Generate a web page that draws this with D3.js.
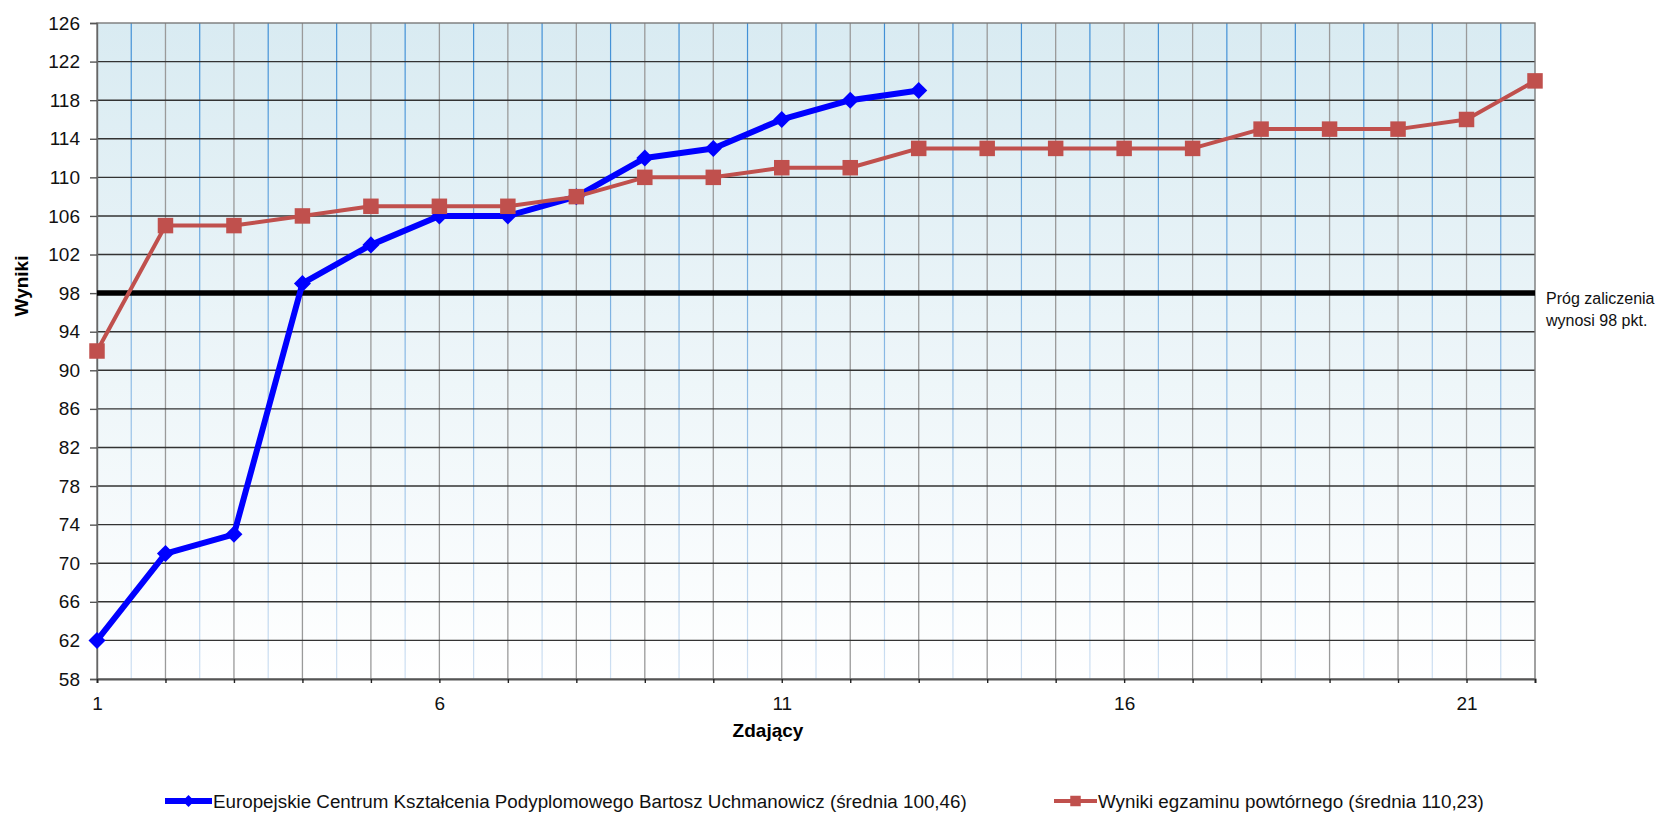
<!DOCTYPE html>
<html>
<head>
<meta charset="utf-8">
<script src="https://cdn.jsdelivr.net/npm/d3@7"></script>
<style>
html,body{margin:0;padding:0;background:#fff;}
svg{display:block;font-family:Arial,"Liberation Sans",sans-serif;}
</style>
</head>
<body>
<svg id="chart" width="1660" height="813"></svg>
<script>
// ---- data ----
const seriesNames = [
  "Europejskie Centrum Kształcenia Podyplomowego Bartosz Uchmanowicz (średnia 100,46)",
  "Wyniki egzaminu powtórnego (średnia 110,23)"
];
const ecksValues = [62, 71, 73, 99, 103, 106, 106, 108, 112, 113, 116, 118, 119];
const retakeValues = [92, 105, 105, 106, 107, 107, 107, 108, 110, 110, 111, 111, 113, 113, 113, 113, 113, 115, 115, 115, 116, 120];
const threshold = 98;
const thresholdLabel = ["Próg zaliczenia", "wynosi 98 pkt."];
const xTickLabels = [1, 6, 11, 16, 21];
const yTickLabels = [58, 62, 66, 70, 74, 78, 82, 86, 90, 94, 98, 102, 106, 110, 114, 118, 122, 126];
const xTitle = "Zdający";
const yTitle = "Wyniki";

// ---- layout ----
const svg = d3.select("#chart");
const L = 97, R = 1535, T = 23, B = 679;
const x = d3.scaleLinear().domain([1, 22]).range([L, R]);
const y = d3.scaleLinear().domain([58, 126]).range([B, T]);

const defs = svg.append("defs");
const bg = defs.append("linearGradient").attr("id", "bg").attr("x1", 0).attr("y1", 0).attr("x2", 0).attr("y2", 1);
bg.append("stop").attr("offset", "0%").attr("stop-color", "#d9ebf2");
bg.append("stop").attr("offset", "100%").attr("stop-color", "#ffffff");
const bl = defs.append("linearGradient").attr("id", "bl").attr("gradientUnits", "userSpaceOnUse")
  .attr("x1", 0).attr("y1", T).attr("x2", 0).attr("y2", B);
bl.append("stop").attr("offset", "0%").attr("stop-color", "#3f8fd6");
bl.append("stop").attr("offset", "100%").attr("stop-color", "#cfe0f2");

svg.append("rect").attr("x", L).attr("y", T).attr("width", R - L).attr("height", B - T).attr("fill", "url(#bg)");

// vertical grid: half-steps (blue) and integers (gray)
const halfs = d3.range(1.5, 22, 1);
const ints = d3.range(2, 22, 1);
svg.append("g").selectAll("line").data(halfs).join("line")
  .attr("x1", d => x(d)).attr("x2", d => x(d)).attr("y1", T).attr("y2", B)
  .attr("stroke", "url(#bl)").attr("stroke-width", 1.2);
svg.append("g").selectAll("line").data(ints).join("line")
  .attr("x1", d => x(d)).attr("x2", d => x(d)).attr("y1", T).attr("y2", B)
  .attr("stroke", "#9a9a9a").attr("stroke-width", 1.3);
// horizontal grid
svg.append("g").selectAll("line").data(yTickLabels.filter(v => v > 58 && v < 126)).join("line")
  .attr("x1", L).attr("x2", R).attr("y1", d => y(d)).attr("y2", d => y(d))
  .attr("stroke", "#333").attr("stroke-width", 1.4);

// border
svg.append("rect").attr("x", L).attr("y", T).attr("width", R - L).attr("height", B - T)
  .attr("fill", "none").attr("stroke", "#7a7a7a").attr("stroke-width", 1.4);

// y axis
const yAxis = d3.axisLeft(y).tickValues(yTickLabels).tickSize(7).tickPadding(10).tickFormat(d3.format("d"));
const gy = svg.append("g").attr("transform", `translate(${L},0)`).call(yAxis);
gy.select(".domain").attr("stroke", "#666").attr("stroke-width", 1.4);
gy.selectAll(".tick line").attr("stroke", "#555").attr("stroke-width", 1.4);
gy.selectAll(".tick text").attr("font-size", 19).attr("fill", "#111").attr("font-family", "Arial, 'Liberation Sans', sans-serif");

// x axis
const xAxis = d3.axisBottom(x).tickValues(d3.range(1, 23)).tickSize(4).tickPadding(14)
  .tickFormat(d => xTickLabels.includes(d) ? d : "");
const gx = svg.append("g").attr("transform", `translate(0,${B})`).call(xAxis);
gx.select(".domain").attr("stroke", "#555").attr("stroke-width", 2);
gx.selectAll(".tick line").attr("stroke", "#222").attr("stroke-width", 1.4);
gx.selectAll(".tick text").attr("font-size", 19).attr("fill", "#111").attr("font-family", "Arial, 'Liberation Sans', sans-serif");

// threshold line
svg.append("line").attr("x1", L).attr("x2", R).attr("y1", y(threshold)).attr("y2", y(threshold))
  .attr("stroke", "#000").attr("stroke-width", 5.5);
svg.append("g").selectAll("text").data(thresholdLabel).join("text")
  .attr("x", R + 11).attr("y", (d, i) => y(threshold) + 11 + i * 22)
  .attr("font-size", 16).attr("fill", "#111").text(d => d);

// series
const line = d3.line().x((d, i) => x(i + 1)).y(d => y(d));

svg.append("path").datum(ecksValues).attr("d", line).attr("fill", "none")
  .attr("stroke", "#0000ff").attr("stroke-width", 6).attr("stroke-linejoin", "round");
svg.append("g").selectAll("path").data(ecksValues).join("path")
  .attr("transform", (d, i) => `translate(${x(i + 1)},${y(d)}) rotate(45)`)
  .attr("d", d3.symbol().type(d3.symbolSquare).size(145)).attr("fill", "#0000ff");

svg.append("path").datum(retakeValues).attr("d", line).attr("fill", "none")
  .attr("stroke", "#c0504d").attr("stroke-width", 4).attr("stroke-linejoin", "round");
svg.append("g").selectAll("path").data(retakeValues).join("path")
  .attr("transform", (d, i) => `translate(${x(i + 1)},${y(d)})`)
  .attr("d", d3.symbol().type(d3.symbolSquare).size(240)).attr("fill", "#c0504d");

// axis titles
svg.append("text").attr("x", 768).attr("y", 737).attr("text-anchor", "middle")
  .attr("font-size", 19).attr("font-weight", "bold").attr("fill", "#000").text(xTitle);
svg.append("text").attr("transform", "translate(28,286) rotate(-90)").attr("text-anchor", "middle")
  .attr("font-size", 19).attr("font-weight", "bold").attr("fill", "#000").text(yTitle);

// legend
const legY = 801;
const lg1 = svg.append("g");
lg1.append("line").attr("x1", 165).attr("x2", 212).attr("y1", legY).attr("y2", legY)
  .attr("stroke", "#0000ff").attr("stroke-width", 6);
lg1.append("path").attr("transform", `translate(188.5,${legY}) rotate(45)`)
  .attr("d", d3.symbol().type(d3.symbolSquare).size(70)).attr("fill", "#0000ff");
lg1.append("text").attr("x", 213).attr("y", legY + 7).attr("font-size", 18.8).attr("fill", "#111").text(seriesNames[0]);

const lg2 = svg.append("g");
lg2.append("line").attr("x1", 1054).attr("x2", 1097).attr("y1", legY).attr("y2", legY)
  .attr("stroke", "#c0504d").attr("stroke-width", 4);
lg2.append("path").attr("transform", `translate(1075.5,${legY})`)
  .attr("d", d3.symbol().type(d3.symbolSquare).size(110)).attr("fill", "#c0504d");
lg2.append("text").attr("x", 1098).attr("y", legY + 7).attr("font-size", 18.8).attr("fill", "#111").text(seriesNames[1]);
</script>
</body>
</html>
